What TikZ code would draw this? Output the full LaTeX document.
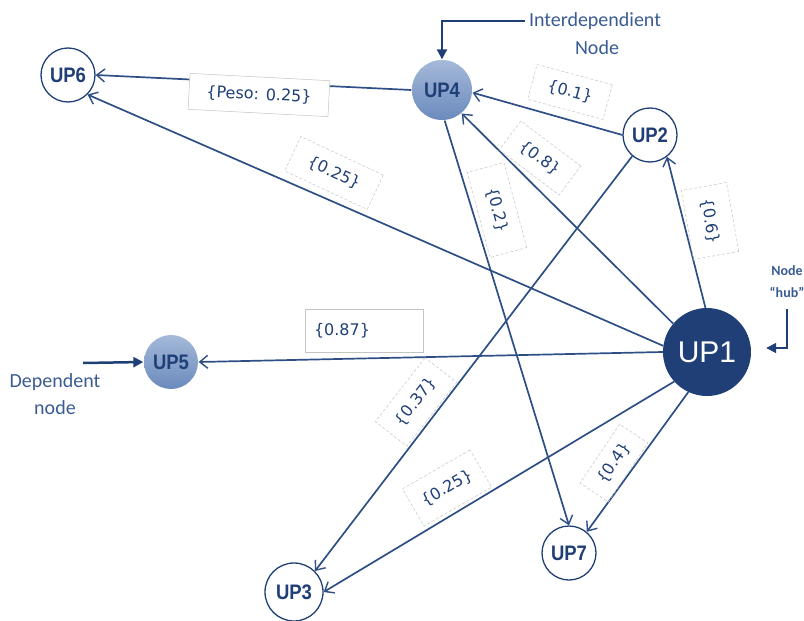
\documentclass[tikz,border=0pt]{standalone}
\usepackage{fontspec}
\setmainfont{Liberation Sans}
\newfontfamily\lblfont{DejaVu Sans}
\newfontfamily\notefont{Carlito}
\newfontfamily\upfont[FakeStretch=0.88]{Liberation Sans}
\usetikzlibrary{arrows.meta}
\definecolor{navy}{HTML}{1F3F76}
\definecolor{linecol}{HTML}{2E4F86}
\definecolor{notecol}{HTML}{3A5B93}
\definecolor{boxgray}{HTML}{C4C4C4}
\definecolor{balltop}{HTML}{A5B9D9}
\definecolor{ballbot}{HTML}{6B8ABD}

\begin{document}
\begin{tikzpicture}[x=1pt,y=-1pt,
	up/.style={circle,draw=navy,line width=1.3pt,fill=white,text=navy,inner sep=0pt,minimum size=54pt,font=\upfont\fontsize{21}{21}\selectfont\bfseries},
	upfill/.style={up,draw=none,top color=balltop,bottom color=ballbot},
	link/.style={draw=linecol,line width=1.7pt,-{Straight Barb[length=8pt,width=13pt,line width=1.4pt]}},
	wt/.style={draw=boxgray,densely dashed,line width=0.5pt,text=navy,inner sep=0pt,font=\lblfont\fontsize{16}{16}\selectfont},
	note/.style={text=notecol,font=\notefont\fontsize{20}{27}\selectfont,align=center},
	pointer/.style={draw=navy,line width=2pt,-{Triangle[length=10pt,width=10pt]}}]
	\useasboundingbox (0,0) rectangle (804,621);
	
	% units
	\node[up] (up6) at (68,75) {UP6};
	\node[upfill,minimum size=60pt] (up4) at (442,90) {UP4};
	\node[up] (up2) at (650,135) {UP2};
	\node[circle,fill=navy,minimum size=88pt,inner sep=0pt,text=white,font=\fontsize{30}{30}\selectfont] (up1) at (707,352) {UP1};
	\node[upfill] (up5) at (171,362) {UP5};
	\node[up] (up7) at (569,553) {UP7};
	\node[up,minimum size=58pt] (up3) at (294,592) {UP3};
	
	% dependencies
	\draw[link] (up4.west) -- (up6.east);
	\draw[link] (up1.172) -- (up6.-45);
	\draw[link] (up2.west) -- (up4.-5);
	\draw[link] (up1.140) -- (up4.-50);
	\draw[link] (up1.92) -- (up2.-52);
	\draw[link] (up4.-85) -- (up7.north);
	\draw[link] (up1.west) -- (up5.east);
	\draw[link] (up2.230) -- (up3.45);
	\draw[link] (up1.222) -- (up3.east);
	\draw[link] (up1.245) -- (up7.50);
	
	% weights
	\node[wt,solid,fill=white,minimum width=140pt,minimum height=36pt,rotate=-3] (w46) at (259,95) {\{Peso: 0.25\}};
	\node[wt,minimum width=91pt,minimum height=38pt,rotate=-25] (w16) at (334,173) {\{0.25\}};
	\node[wt,minimum width=78pt,minimum height=36pt,rotate=-15] (w24) at (570,92) {\{0.1\}};
	\node[wt,minimum width=75pt,minimum height=36pt,rotate=-37] (w14) at (540,158) {\{0.8\}};
	\node[wt,minimum width=88pt,minimum height=38pt,rotate=-75] (w47) at (497,210) {\{0.2\}};
	\node[wt,minimum width=70pt,minimum height=46pt,rotate=-80] (w12) at (710,221) {\{0.6\}};
	\node[wt,solid,text width=100pt,inner xsep=9pt,minimum height=43pt,align=left] (w15) at (364,331) {\{0.87\}};
	\node[wt,minimum width=81pt,minimum height=40pt,rotate=52] (w23) at (416,402) {\{0.37\}};
	\node[wt,minimum width=78pt,minimum height=43pt,rotate=30] (w13) at (447,488) {\{0.25\}};
	\node[wt,minimum width=71pt,minimum height=34pt,rotate=56] (w17) at (614,463) {\{0.4\}};
	
	% notes
	\node[note] (intr) at (595,21) {Interdependient};
	\node[note] (intrb) at (597,48) {Node};
	\draw[pointer] (intr.west) -| (up4.north);
	
	\node[note,font=\notefont\fontsize{14}{22}\selectfont\bfseries] (hub) at (787,282) {Node\\“hub”};
	\draw[pointer,line width=1.8pt] ([yshift=-8pt]hub.south) |- ([xshift=15pt,yshift=4pt]up1.east);
	
	\node[note] (dep) at (55,394) {Dependent\\node};
	\coordinate (depstart) at (83,363);
	\draw[pointer,line width=2.5pt] (depstart) -- (up5.west);
\end{tikzpicture}
\end{document}
